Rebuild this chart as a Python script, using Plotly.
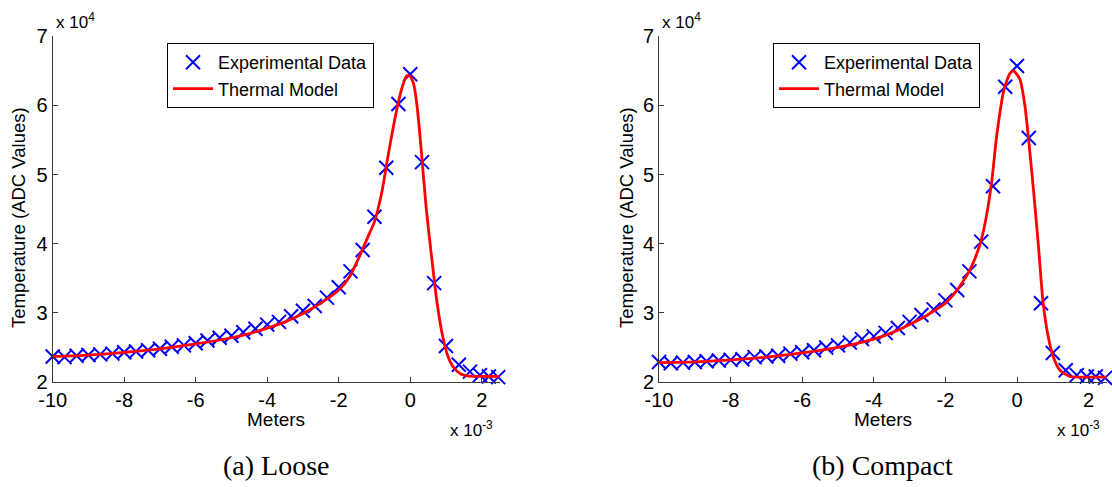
import plotly.graph_objects as go

# Probe positions along the strip, in millimetres (plotted in metres)
pos_mm = [-10.0, -9.67, -9.33, -9.0, -8.67, -8.33, -8.0, -7.67, -7.33, -7.0,
          -6.67, -6.33, -6.0, -5.67, -5.33, -5.0, -4.67, -4.33, -4.0, -3.67,
          -3.33, -3.0, -2.67, -2.33, -2.0, -1.67, -1.33, -1.0, -0.67, -0.33,
          0.0, 0.33, 0.67, 1.0, 1.36, 1.67, 1.95, 2.2, 2.46]

# Measured temperatures, ADC values in units of 1e4
loose_meas = [2.37, 2.36, 2.38, 2.39, 2.40, 2.41, 2.43, 2.44, 2.46, 2.48,
              2.51, 2.53, 2.56, 2.60, 2.64, 2.67, 2.72, 2.77, 2.83, 2.87,
              2.95, 3.03, 3.10, 3.22, 3.37, 3.60, 3.91, 4.39, 5.10, 6.02,
              6.45, 5.18, 3.43, 2.52, 2.25, 2.15, 2.10, 2.08, 2.07]
compact_meas = [2.29, 2.27, 2.28, 2.29, 2.30, 2.31, 2.32, 2.33, 2.36, 2.37,
                2.38, 2.41, 2.43, 2.46, 2.50, 2.53, 2.57, 2.62, 2.66, 2.71,
                2.78, 2.87, 2.97, 3.05, 3.18, 3.33, 3.60, 4.03, 4.83, 6.27,
                6.57, 5.53, 3.14, 2.42, 2.17, 2.10, 2.08, 2.08, 2.06]

# Thermal model curves (knot positions in mm, values in units of 1e4)
loose_model_mm = [-10, -9, -8, -7, -6, -5, -4.5, -4, -3.5, -3,
                  -2.5, -2, -1.7, -1.4, -1.2, -1.0, -0.8, -0.6, -0.4, -0.25,
                  -0.1, 0.0, 0.1, 0.2, 0.3, 0.45, 0.6, 0.75, 0.9, 1.05,
                  1.2, 1.4, 1.6, 2.0, 2.5]
loose_model = [2.37, 2.39, 2.43, 2.48, 2.55, 2.64, 2.70, 2.78, 2.87, 2.99,
               3.14, 3.33, 3.52, 3.84, 4.08, 4.32, 4.73, 5.33, 5.88, 6.22,
               6.43, 6.42, 6.30, 5.95, 5.40, 4.50, 3.80, 3.15, 2.68, 2.38,
               2.22, 2.12, 2.09, 2.08, 2.08]
compact_model_mm = [-10, -9, -8, -7, -6, -5, -4, -3.5, -3, -2.5,
                    -2, -1.7, -1.5, -1.27, -1.03, -0.89, -0.71, -0.57, -0.36, -0.2,
                    -0.1, 0.08, 0.22, 0.32, 0.46, 0.6, 0.73, 0.87, 1.01, 1.2,
                    1.48, 2.0, 2.5]
compact_model = [2.28, 2.29, 2.32, 2.36, 2.42, 2.50, 2.62, 2.71, 2.83, 2.97,
                 3.14, 3.31, 3.46, 3.67, 4.00, 4.30, 4.88, 5.55, 6.24, 6.46,
                 6.50, 6.38, 6.00, 5.53, 4.78, 3.96, 3.14, 2.66, 2.37, 2.17,
                 2.08, 2.07, 2.07]

x_ticks_mm = [-10, -8, -6, -4, -2, 0, 2]
y_ticks_e4 = [2, 3, 4, 5, 6, 7]
captions = ["(a) Loose", "(b) Compact"]

SANS = "Liberation Sans, Arial, sans-serif"
SERIF = "Liberation Serif, Times New Roman, serif"
AXIS_COLOR = "#3a3a3a"

W, H = 1112, 487
panels = [
    dict(meas=loose_meas, mx=loose_model_mm, my=loose_model, xdom=(52.7, 499.6),
         legend="legend", leg_x=167.0, ytitle_x=18.0),
    dict(meas=compact_meas, mx=compact_model_mm, my=compact_model, xdom=(659.0, 1106.5),
         legend="legend2", leg_x=773.0, ytitle_x=626.0),
]
ydom = ((H - 382.0) / H, (H - 36.3) / H)

fig = go.Figure()
for i, p in enumerate(panels):
    xa = "x" if i == 0 else "x2"
    ya = "y" if i == 0 else "y2"
    fig.add_trace(go.Scatter(
        x=[v * 1e-3 for v in pos_mm], y=[v * 1e4 for v in p["meas"]],
        mode="markers", name="Experimental Data", xaxis=xa, yaxis=ya,
        marker=dict(symbol="x-thin", size=14, color="#0000ff",
                    line=dict(width=2, color="#0000ff")),
        cliponaxis=False, legend=p["legend"],
    ))
    fig.add_trace(go.Scatter(
        x=[v * 1e-3 for v in p["mx"]], y=[v * 1e4 for v in p["my"]],
        mode="lines", name="Thermal Model", xaxis=xa, yaxis=ya,
        line=dict(color="#ff0000", width=2.8, shape="spline", smoothing=0.6),
        legend=p["legend"],
    ))

axis_common = dict(showline=True, linecolor=AXIS_COLOR, linewidth=1, mirror=False,
                   ticks="inside", ticklen=5, tickcolor=AXIS_COLOR, showgrid=False,
                   zeroline=False, automargin=False,
                   tickfont=dict(family=SANS, size=20, color="#000"))

layout = dict(
    width=W, height=H, margin=dict(l=0, r=0, t=0, b=0, autoexpand=False),
    paper_bgcolor="white", plot_bgcolor="white", showlegend=True,
    font=dict(family=SANS, color="#000"),
)
for i, p in enumerate(panels):
    sx = "" if i == 0 else "2"
    layout["xaxis" + sx] = dict(
        axis_common, domain=[p["xdom"][0] / W, p["xdom"][1] / W],
        range=[-0.01, 0.0025], anchor="y" + sx,
        tickvals=[t * 1e-3 for t in x_ticks_mm], ticktext=[str(t) for t in x_ticks_mm],
    )
    layout["yaxis" + sx] = dict(
        axis_common, domain=list(ydom), range=[20000, 70000], anchor="x" + sx,
        tickvals=[t * 1e4 for t in y_ticks_e4], ticktext=[str(t) for t in y_ticks_e4],
    )
    layout[p["legend"]] = dict(
        x=p["leg_x"] / W, y=1 - 43.0 / H,
        xanchor="left", yanchor="top", bgcolor="white",
        bordercolor="#000", borderwidth=1, itemwidth=40,
        font=dict(family=SANS, size=18, color="#000"), tracegroupgap=0,
    )
fig.update_layout(**layout)

# Axis titles, exponent labels and panel captions
for i, p in enumerate(panels):
    x0, x1 = p["xdom"]
    xc = (x0 + x1) / 2
    fig.add_annotation(x=p["ytitle_x"] / W, y=1 - 218.0 / H, xref="paper", yref="paper",
                       text="Temperature (ADC Values)", textangle=-90, showarrow=False,
                       xanchor="center", yanchor="middle", font=dict(family=SANS, size=18.5))
    fig.add_annotation(x=xc / W, y=1 - 419.0 / H, xref="paper", yref="paper",
                       text="Meters", showarrow=False, xanchor="center",
                       yanchor="middle", font=dict(family=SANS, size=19))
    fig.add_annotation(x=(x0 + 1) / W, y=1 - 21.0 / H, xref="paper", yref="paper",
                       text="x 10<sup>4</sup>", showarrow=False, xanchor="left",
                       yanchor="middle", font=dict(family=SANS, size=17))
    fig.add_annotation(x=(x1 - 52) / W, y=1 - 429.0 / H, xref="paper", yref="paper",
                       text="x 10<sup>-3</sup>", showarrow=False, xanchor="left",
                       yanchor="middle", font=dict(family=SANS, size=17))
    fig.add_annotation(x=xc / W, y=1 - 465.0 / H, xref="paper", yref="paper",
                       text=captions[i], showarrow=False, xanchor="center",
                       yanchor="middle", font=dict(family=SERIF, size=28))

fig.write_html("out.html")
